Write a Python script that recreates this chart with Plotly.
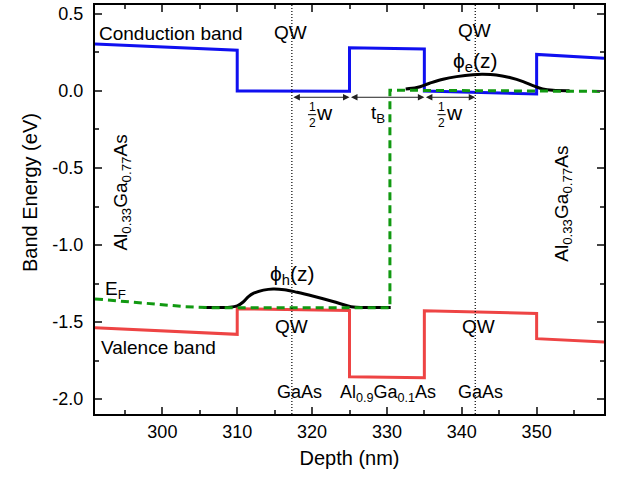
import plotly.graph_objects as go

# ---------------- data ----------------
cb_x = [291, 310, 310, 325, 325, 335, 335, 350, 350, 359]
cb_y = [0.305, 0.265, 0.0, -0.002, 0.28, 0.272, 0.0, -0.02, 0.237, 0.212]

vb_x = [291, 310, 310, 325, 325, 335, 335, 350, 350, 359]
vb_y = [-1.537, -1.58, -1.414, -1.425, -1.856, -1.862, -1.427, -1.444, -1.608, -1.63]

ef_x = [291, 295, 299, 303, 307, 330.4, 330.4, 345, 359]
ef_y = [-1.35, -1.368, -1.385, -1.40, -1.408, -1.408, 0.005, 0.003, -0.003]

ph_x = [305.5, 309, 310, 310.8, 311.5, 312.2, 313.5, 314.8, 316.3, 318, 320.2, 322.8, 324.6, 325.5, 327, 330.5]
ph_y = [-1.405, -1.404, -1.395, -1.37, -1.335, -1.313, -1.293, -1.285, -1.29, -1.307, -1.333, -1.367, -1.393, -1.403, -1.405, -1.405]

pe_x = [332.5, 334, 335.7, 337.5, 339.3, 341.5, 342.8, 344.6, 346.4, 348.2, 349.5, 350.8, 352.2, 354.4]
pe_y = [0.013, 0.022, 0.05, 0.076, 0.093, 0.106, 0.108, 0.104, 0.087, 0.061, 0.035, 0.013, 0.004, 0.002]

qw_centers = [317.3, 341.8]
boundaries = [325, 335]

x_ticks = [300, 310, 320, 330, 340, 350]
y_ticks = [0.5, 0.0, -0.5, -1.0, -1.5, -2.0]
y_ticktext = ["0.5", "0.0", "-0.5", "-1.0", "-1.5", "-2.0"]

FONT = "Arial, Liberation Sans, sans-serif"

fig = go.Figure()
fig.add_trace(go.Scatter(x=cb_x, y=cb_y, mode="lines",
                         line=dict(color="#1010f0", width=3), hoverinfo="skip"))
fig.add_trace(go.Scatter(x=vb_x, y=vb_y, mode="lines",
                         line=dict(color="#ee4444", width=3), hoverinfo="skip"))
fig.add_trace(go.Scatter(x=ph_x, y=ph_y, mode="lines", line_shape="spline",
                         line=dict(color="black", width=3), hoverinfo="skip"))
fig.add_trace(go.Scatter(x=pe_x, y=pe_y, mode="lines", line_shape="spline",
                         line=dict(color="black", width=3), hoverinfo="skip"))
fig.add_trace(go.Scatter(x=ef_x, y=ef_y, mode="lines",
                         line=dict(color="#119911", width=3, dash="8px,5px"), hoverinfo="skip"))

# dotted vertical lines at QW centres
for xc in qw_centers:
    fig.add_shape(type="line", xref="x", yref="paper", x0=xc, x1=xc, y0=0, y1=1,
                  line=dict(color="black", width=1.2, dash="1px,2px"))

ann = []

def txt(x, y, s, size=18, **kw):
    d = dict(x=x, y=y, xref="x", yref="y", text=s, showarrow=False,
             xanchor="center", yanchor="middle",
             font=dict(family=FONT, size=size, color="black"))
    d.update(kw)
    ann.append(d)

# arrows (½w, t_B, ½w)
arrow_y = -0.041
segs = [(qw_centers[0], boundaries[0]), (boundaries[0], boundaries[1]), (boundaries[1], qw_centers[1])]
for a, b in segs:
    ann.append(dict(x=b, y=arrow_y, ax=a, ay=arrow_y, xref="x", yref="y", axref="x", ayref="y",
                    text="", showarrow=True, arrowhead=2, arrowside="end+start",
                    arrowsize=1.3, arrowwidth=1, arrowcolor="#222", standoff=0, startstandoff=0))

# fractions 1/2 w
for fx, wx in [(320.0, 321.6), (337.3, 339.0)]:
    txt(fx, -0.103, "1", size=12)
    txt(fx, -0.207, "2", size=12)
    fig.add_shape(type="line", xref="x", yref="y", x0=fx - 0.55, x1=fx + 0.55, y0=-0.154, y1=-0.154,
                  line=dict(color="black", width=1))
    txt(wx, -0.140, "w", size=21)
txt(328.8, -0.148, "t<sub>B</sub>", size=19)

txt(291.2, 0.373, "Conduction band", size=19, xanchor="left")
txt(317.1, 0.377, "QW", size=19)
txt(341.7, 0.393, "QW", size=19)
txt(341.7, 0.19, "ϕ<sub>e</sub>(z)", size=21)
txt(317.3, -1.195, "ϕ<sub>h</sub>(z)", size=21)
txt(293.7, -1.29, "E<sub>F</sub>", size=19)
txt(317.3, -1.532, "QW", size=19)
txt(342.2, -1.532, "QW", size=19)
txt(291.5, -1.664, "Valence band", size=19, xanchor="left")
txt(318.3, -1.955, "GaAs", size=18)
txt(330.1, -1.965, "Al<sub>0.9</sub>Ga<sub>0.1</sub>As", size=18)
txt(342.5, -1.955, "GaAs", size=18)
txt(294.6, -0.66, "Al<sub>0.33</sub>Ga<sub>0.77</sub>As", size=19, textangle=-90)
txt(353.6, -0.735, "Al<sub>0.33</sub>Ga<sub>0.77</sub>As", size=19, textangle=-90)

# y axis title
ann.append(dict(x=(30 - 95) / 509, y=(414 - 192) / 411, xref="paper", yref="paper",
                xanchor="center", yanchor="middle",
                text="Band Energy (eV)", textangle=-90, showarrow=False,
                font=dict(family=FONT, size=20, color="black")))

fig.update_layout(
    width=621, height=483,
    margin=dict(l=95, r=17, t=3, b=69),
    paper_bgcolor="white", plot_bgcolor="white",
    showlegend=False,
    annotations=ann,
    font=dict(family=FONT, size=18, color="black"),
)
fig.update_xaxes(
    range=[291, 359], tickvals=x_ticks, ticks="inside", ticklen=7, tickwidth=1.5,
    showline=True, linewidth=2, linecolor="black", mirror="allticks", showgrid=False,
    zeroline=False, tickfont=dict(family=FONT, size=18, color="black"),
    minor=dict(tickmode="linear", tick0=295, dtick=10, ticks="inside", ticklen=4, tickwidth=1.5, showgrid=False),
    title=dict(text="Depth (nm)", font=dict(family=FONT, size=20, color="black"), standoff=10),
)
fig.update_yaxes(
    range=[-2.097, 0.558], tickvals=y_ticks, ticktext=y_ticktext, ticks="inside", ticklen=7, tickwidth=1.5,
    showline=True, linewidth=2, linecolor="black", mirror="allticks", showgrid=False,
    zeroline=False, tickfont=dict(family=FONT, size=18, color="black"), ticklabelstandoff=6,
    minor=dict(tickmode="linear", tick0=0.25, dtick=0.5, ticks="inside", ticklen=4, tickwidth=1.5, showgrid=False),
)

fig.write_html("out.html", config={"displayModeBar": False},
               post_script="document.body.style.margin='0';")
